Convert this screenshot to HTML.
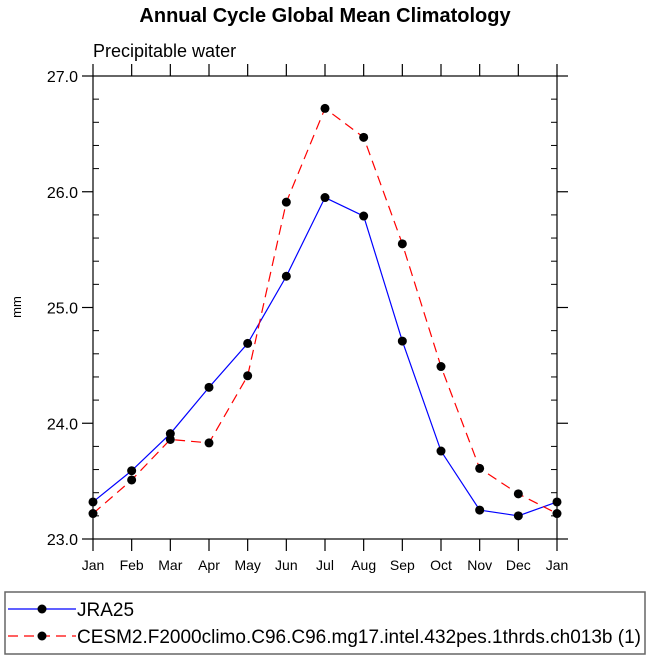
<!DOCTYPE html>
<html><head><meta charset="utf-8"><style>
body{margin:0;background:#fff;}
svg text{font-family:"Liberation Sans",Arial,sans-serif;}
</style></head><body>
<svg id="c" width="650" height="660" xmlns="http://www.w3.org/2000/svg">
<text x="325" y="22" text-anchor="middle" font-size="20" font-weight="bold">Annual Cycle Global Mean Climatology</text>
<text x="93" y="57" font-size="18">Precipitable water</text>
<text x="21" y="307" font-size="13" text-anchor="middle" transform="rotate(-90 21 307)">mm</text>
<g id="axes"></g>
<g id="series"></g>
<rect x="5" y="592" width="640" height="62" fill="none" stroke="#666" stroke-width="1.5"/>
<g>
<line x1="8" y1="609" x2="76" y2="609" stroke="#0000ff" stroke-width="1.2"/>
<circle cx="42" cy="609" r="4.5" fill="#000"/>
<text x="77" y="616" font-size="19">JRA25</text></g>
<g>
<line x1="8" y1="636" x2="76" y2="636" stroke="#ff0000" stroke-width="1.2" stroke-dasharray="10,6"/>
<circle cx="42" cy="636" r="4.5" fill="#000"/>
<text x="77" y="643" font-size="19">CESM2.F2000climo.C96.C96.mg17.intel.432pes.1thrds.ch013b (1)</text></g>
</svg>
<script>
const months=["Jan","Feb","Mar","Apr","May","Jun","Jul","Aug","Sep","Oct","Nov","Dec","Jan"];
const jra25=[23.32,23.59,23.91,24.31,24.69,25.27,25.95,25.79,24.71,23.76,23.25,23.20,23.32];
const cesm2=[23.22,23.51,23.86,23.83,24.41,25.91,26.72,26.47,25.55,24.49,23.61,23.39,23.22];
const yTicks=[23.0,24.0,25.0,26.0,27.0];
const yTickLabels=["23.0","24.0","25.0","26.0","27.0"];
const L=93,R=557,T=76,B=539,yMin=23,yMax=27;
const xs=i=>L+(R-L)*i/(months.length-1);
const ys=v=>B-(v-yMin)/(yMax-yMin)*(B-T);
const NS="http://www.w3.org/2000/svg";
function mk(t,a,p){const e=document.createElementNS(NS,t);for(const k in a)e.setAttribute(k,a[k]);p.appendChild(e);return e;}
const ax=document.getElementById('axes');
const frame=mk('rect',{x:L,y:T,width:R-L,height:B-T,fill:'none',stroke:'#000','stroke-width':1.2},ax);


months.forEach((m,i)=>{const x=xs(i);
mk('line',{x1:x,y1:B,x2:x,y2:B+12,stroke:'#000','stroke-width':1.2},ax);
mk('line',{x1:x,y1:T,x2:x,y2:T-12,stroke:'#000','stroke-width':1.2},ax);
const t=mk('text',{x:x,y:B+31,'text-anchor':'middle','font-size':14},ax);t.textContent=m;

});
yTicks.forEach((v,i)=>{const y=ys(v);
mk('line',{x1:L,y1:y,x2:L-11,y2:y,stroke:'#000','stroke-width':1.2},ax);
mk('line',{x1:R,y1:y,x2:R+11,y2:y,stroke:'#000','stroke-width':1.2},ax);
const t=mk('text',{x:L-15,y:y+6,'text-anchor':'end','font-size':16},ax);t.textContent=yTickLabels[i];


if(i<yTicks.length-1)for(let k=1;k<5;k++){const yy=ys(v+k*0.2);
mk('line',{x1:L,y1:yy,x2:L+6,y2:yy,stroke:'#000','stroke-width':1},ax);
mk('line',{x1:R,y1:yy,x2:R-6,y2:yy,stroke:'#000','stroke-width':1},ax);}});
const sg=document.getElementById('series');
function draw(d,col,dash,name){const g=mk('g',{},sg);


const pl=mk('polyline',{points:d.map((v,i)=>xs(i)+','+ys(v)).join(' '),fill:'none',stroke:col,'stroke-width':1.2},g);
if(dash)pl.setAttribute('stroke-dasharray',dash);
d.forEach((v,i)=>{const c=mk('circle',{cx:xs(i),cy:ys(v),r:4.5,fill:'#000'},g);

});}
draw(jra25,'#0000ff',null,'series-jra25');
draw(cesm2,'#ff0000','10,6','series-cesm2');
</script>
</body></html>
